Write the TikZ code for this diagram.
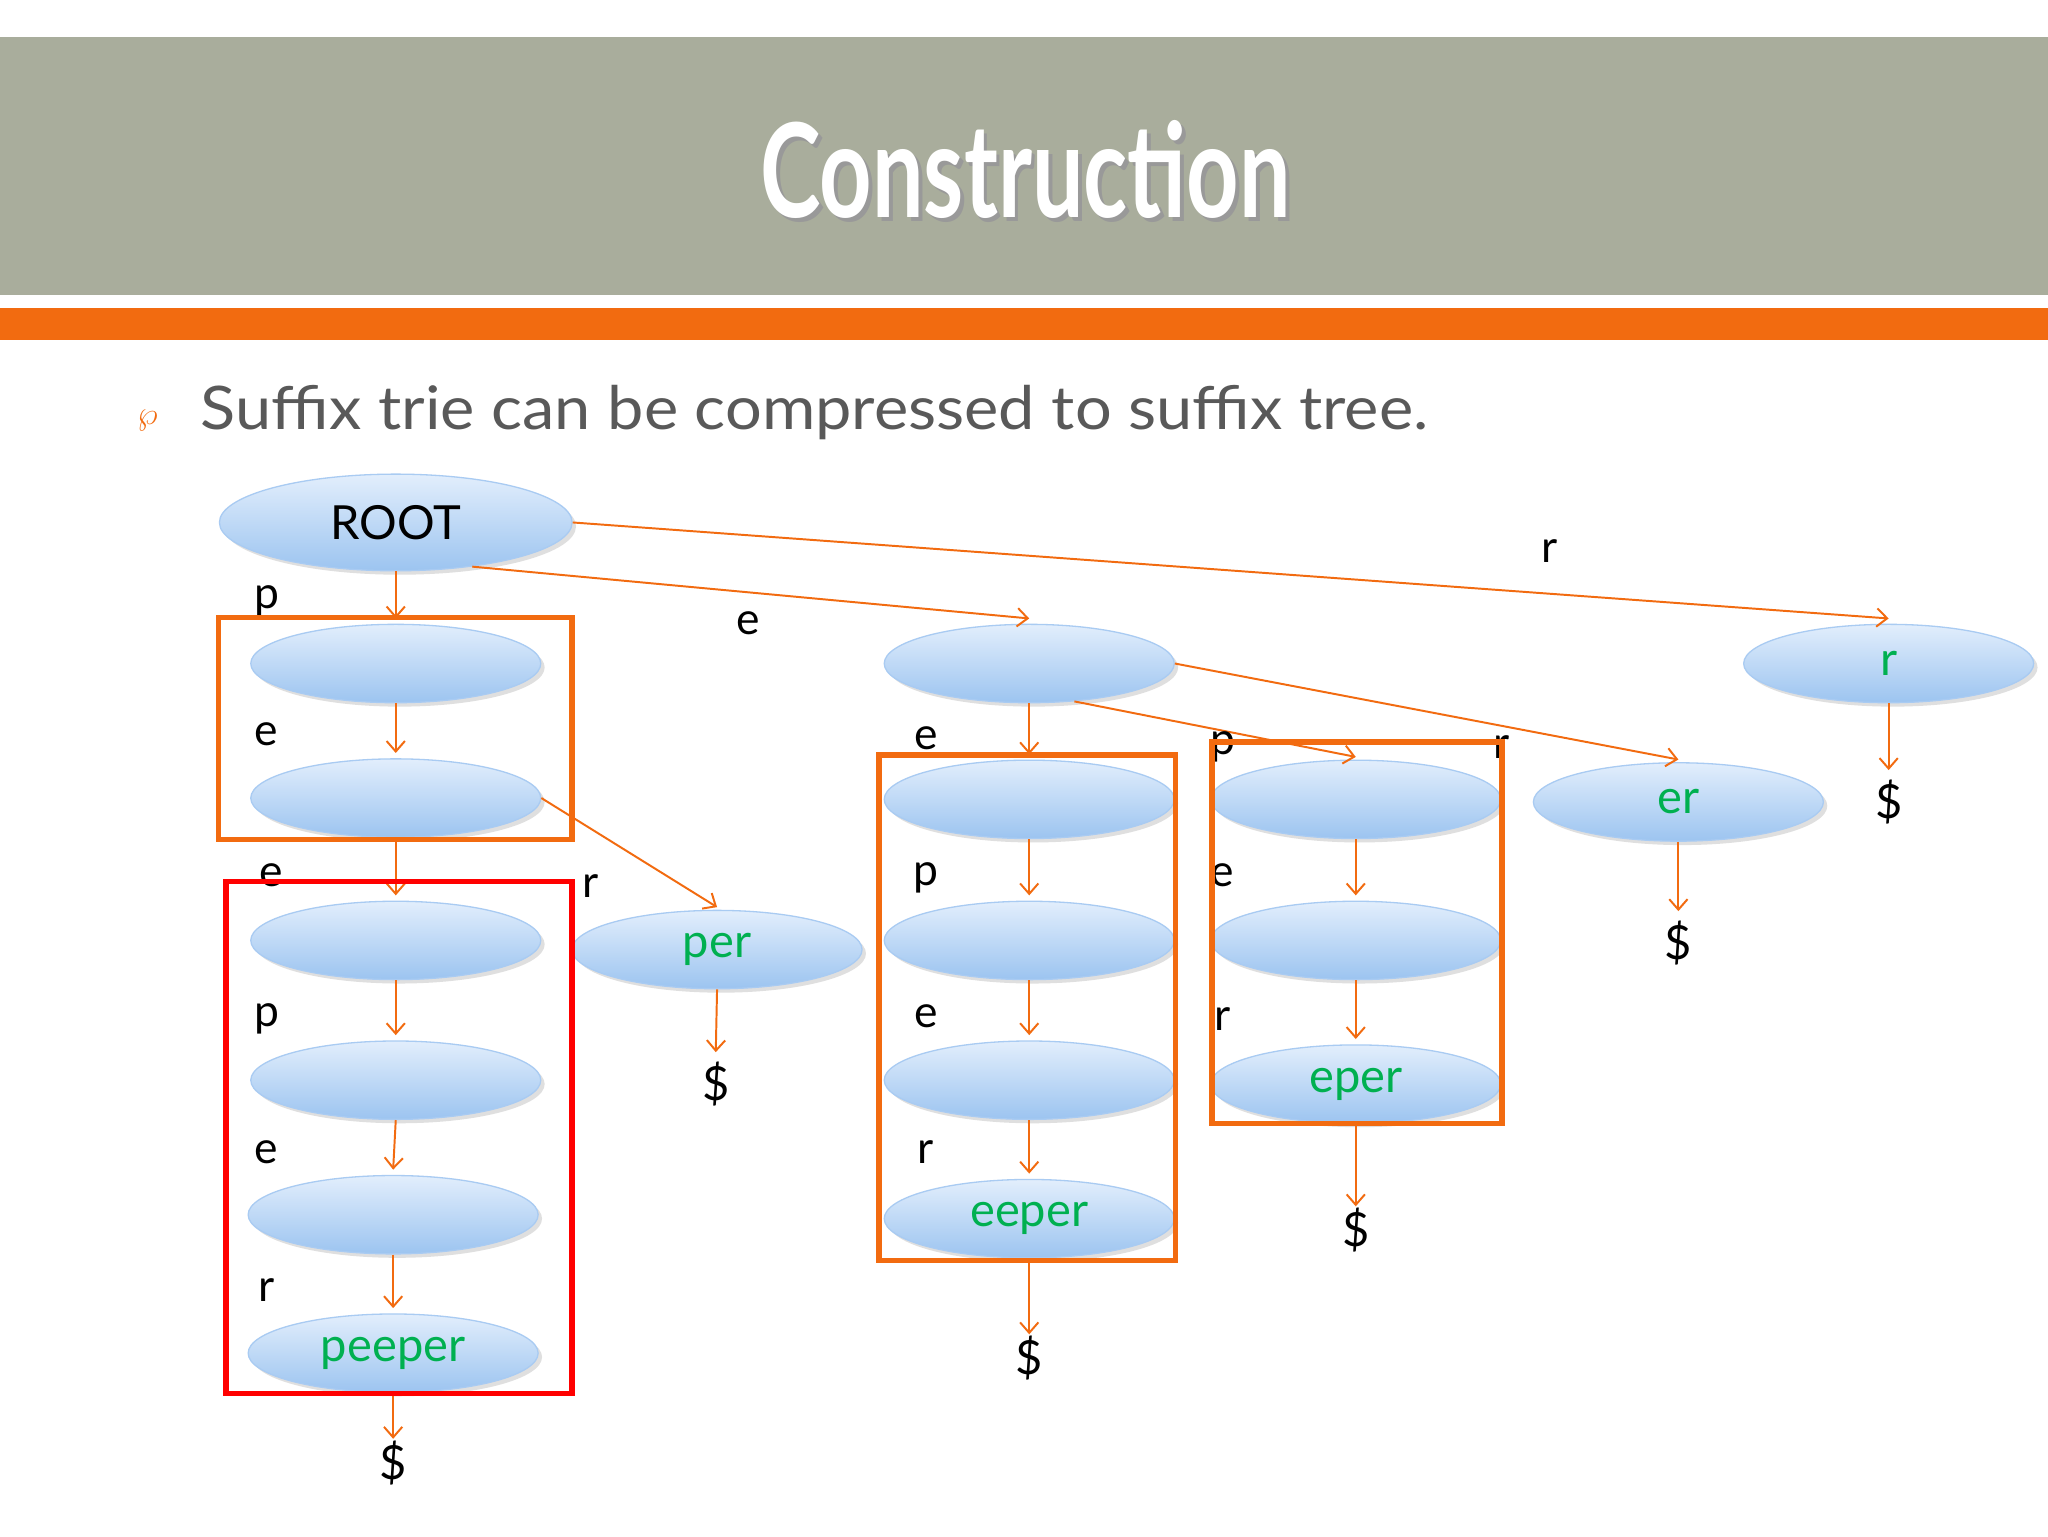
\documentclass[tikz,border=0pt]{standalone}
\usepackage{fontspec}
\setmainfont{Lato}
\usetikzlibrary{arrows.meta,shadows,shapes.geometric}
\definecolor{ban}{HTML}{A9AD9C}
\definecolor{org}{HTML}{F26B10}
\definecolor{grn}{HTML}{00B050}
\definecolor{txt}{HTML}{595959}
\definecolor{etop}{HTML}{E2EEFC}
\definecolor{ebot}{HTML}{9CC4F0}
\definecolor{eline}{HTML}{A9CBF2}
\tikzset{
 nd/.style={ellipse,minimum width=222pt,minimum height=60pt,top color=etop,bottom color=ebot,draw=eline,line width=1pt,font=\fontsize{36}{36}\selectfont,text=grn,drop shadow={opacity=0.25,shadow xshift=3pt,shadow yshift=-3pt}},
 ed/.style={draw=org,line width=1.5pt,-{Straight Barb[length=8pt,width=14pt]}},
 lb/.style={font=\fontsize{34}{34}\selectfont,text=black},
 dl/.style={font=\fontsize{36}{36}\selectfont,text=black},
 bx/.style={draw=org,line width=4pt},
}
\begin{document}
\begin{tikzpicture}[x=1pt,y=-1pt]
\useasboundingbox (0,0) rectangle (1568,1176);
\fill[white] (0,0) rectangle (1568,1176);
\fill[ban] (0,28) rectangle (1568,226);
\fill[org] (0,236) rectangle (1568,260);
\node[text=black!40,font=\fontsize{100}{100}\selectfont\bfseries,xscale=0.7] at (788,133) {Construction};
\node[text=white,font=\fontsize{100}{100}\selectfont\bfseries,xscale=0.7] (title) at (785,130) {Construction};
\node[text=org,font=\fontsize{40}{40}\selectfont] (bul) at (113,322) {$\wp$};
\node[anchor=west,text=txt,font=\fontsize{46}{46}\selectfont,xscale=1.08] (sub) at (150,316) {Suffix trie can be compressed to suffix tree.};
% nodes
\node[nd,minimum width=270pt,minimum height=74pt,text=black] (root) at (303,400) {ROOT};
\node[nd] (a1) at (303,508) {};
\node[nd] (a2) at (303,611) {};
\node[nd] (a3) at (303,720) {};
\node[nd] (a4) at (303,827) {};
\node[nd] (a5) at (301,930) {};
\node[nd] (a6) at (301,1036) {peeper};
\node[dl] (ad) at (301,1120) {\$};
\node[nd] (per) at (549,727) {per};
\node[dl] (perd) at (548,830) {\$};
\node[nd] (b0) at (788,508) {};
\node[nd] (b1) at (788,612) {};
\node[nd] (b2) at (788,720) {};
\node[nd] (b3) at (788,827) {};
\node[nd] (b4) at (788,933) {eeper};
\node[dl] (bd) at (788,1040) {\$};
\node[nd] (c1) at (1038,612) {};
\node[nd] (c2) at (1038,720) {};
\node[nd] (c3) at (1038,830) {eper};
\node[dl] (cd) at (1038,942) {\$};
\node[nd] (er) at (1285,614) {er};
\node[dl] (erd) at (1285,722) {\$};
\node[nd] (r) at (1446,508) {r};
\node[dl] (rd) at (1446,614) {\$};
% edges
\foreach \u/\v in {root/a1,a1/a2,a2/a3,a3/a4,a4/a5,a5/a6,per/perd,b0/b1,b1/b2,b2/b3,b3/b4,c1/c2,c2/c3,er/erd,r/rd}
 \draw[ed] (\u.south) -- ([yshift=4pt]\v.north);
\foreach \u/\v in {a6/ad,b4/bd,c3/cd}
 \draw[ed] (\u.south) -- ([yshift=-2pt]\v.north);
\draw[ed] (root.east) -- ([yshift=4pt]r.north);
\draw[ed] (root.-30) -- ([yshift=4pt]b0.north);
\draw[ed] (b0.-40) -- ([yshift=2pt]c1.north);
\draw[ed] (b0.east) -- ([yshift=2pt]er.north);
\draw[ed] (a2.east) -- ([yshift=2pt]per.north);
% labels
\foreach \p/\t in {{204,460}/p,{204,562}/e,{208,670}/e,{204,780}/p,{204,882}/e,{204,988}/r,{452,678}/r,{573,477}/e,{1186,422}/r,{709,565}/e,{709,672}/p,{709,778}/e,{709,882}/r,{936,572}/p,{1150,572}/r,{936,670}/e,{936,780}/r}
 \node[lb] at (\p) {\t};
% boxes
\draw[bx] (167,473) rectangle (438,643);
\draw[bx,draw=red] (173,675) rectangle (438,1067);
\draw[bx] (673,578) rectangle (900,965);
\draw[bx] (928,568) rectangle (1150,860);
\end{tikzpicture}
\end{document}
